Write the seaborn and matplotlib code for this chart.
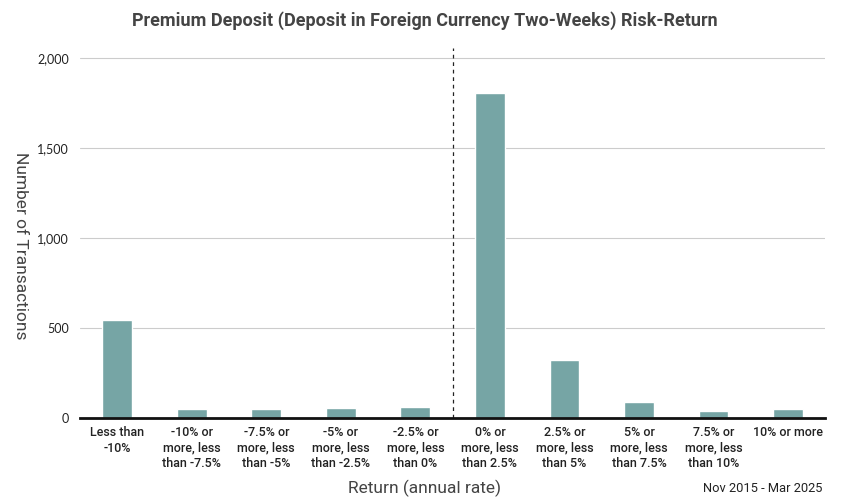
import pandas as pd
import matplotlib.pyplot as plt
import matplotlib.ticker as mticker
import seaborn as sns

# Return buckets and transaction counts
categories = ['Less than\n-10%', '-10% or\nmore, less\nthan -7.5%', '-7.5% or\nmore, less\nthan -5%',
              '-5% or\nmore, less\nthan -2.5%', '-2.5% or\nmore, less\nthan 0%', '0% or\nmore, less\nthan 2.5%',
              '2.5% or\nmore, less\nthan 5%', '5% or\nmore, less\nthan 7.5%', '7.5% or\nmore, less\nthan 10%',
              '10% or more']
counts = [543, 50, 48, 56, 59, 1805, 324, 87, 37, 50]
y_ticks = [0, 500, 1000, 1500, 2000]

df = pd.DataFrame({'bucket': categories, 'count': counts})

sns.set_style('white')
plt.rcParams['font.family'] = ['Roboto', 'DejaVu Sans']

fig = plt.figure(figsize=(8.5, 5), dpi=100)
ax = fig.add_axes([0.094, 0.164, 0.877, 0.740])

sns.barplot(data=df, x='bucket', y='count', color='#76a5a5', width=0.4, saturation=1, ax=ax, zorder=3)

ax.set_ylim(0, 2056)
ax.set_yticks(y_ticks)
ax.yaxis.set_major_formatter(mticker.StrMethodFormatter('{x:,.0f}'))
ax.grid(axis='y', color='#cccccc', linewidth=0.8, zorder=0)
ax.set_xlim(-0.5, len(categories) - 0.5)

# dashed separator between negative and positive returns
ax.axvline(4.5, color='#222222', linestyle=(0, (3, 3)), linewidth=0.9, zorder=4)

for side in ['top', 'right', 'left']:
    ax.spines[side].set_visible(False)
ax.spines['bottom'].set_color('#111111')
ax.spines['bottom'].set_linewidth(2)
ax.spines['bottom'].set_zorder(5)

ax.tick_params(axis='both', length=0, colors='#222222')
ax.tick_params(axis='x', pad=6, labelsize=9)
ax.tick_params(axis='y', pad=8, labelsize=9)
for lbl in ax.get_xticklabels():
    lbl.set_linespacing(1.25)
    lbl.set_fontweight('medium')
for lbl in ax.get_yticklabels():
    lbl.set_family(['Lato', 'DejaVu Sans'])

ax.set_xlabel('')
ax.set_ylabel('Number of Transactions', fontsize=12.5, color='#444444', rotation=270,
              va='center', labelpad=0)
ax.yaxis.set_label_coords(-0.08, 0.465)
fig.text(0.5, 0.024, 'Return (annual rate)', ha='center', va='center', fontsize=12.5, color='#444444')
fig.suptitle('Premium Deposit (Deposit in Foreign Currency Two-Weeks) Risk-Return',
             x=0.5, y=0.978, fontsize=13, fontweight='bold', color='#444444')
fig.text(0.968, 0.024, 'Nov 2015 - Mar 2025', ha='right', va='center', fontsize=9.3, color='#222222')

plt.savefig('out.png', dpi=100)
